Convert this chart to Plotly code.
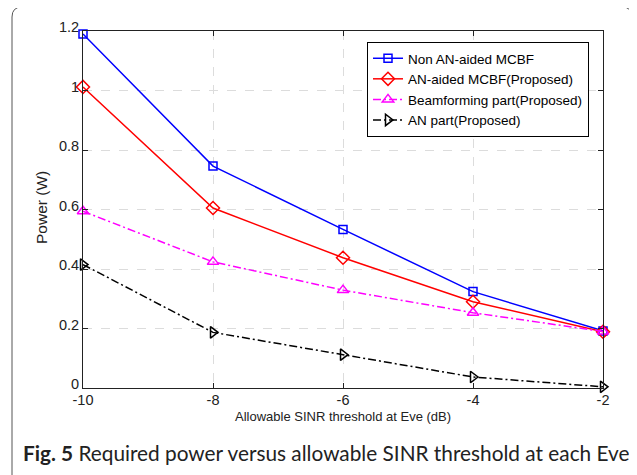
import plotly.graph_objects as go

x_vals = [-10, -8, -6, -4, -2]
non_an_mcbf = [1.19, 0.746, 0.533, 0.324, 0.192]
an_mcbf = [1.012, 0.605, 0.438, 0.29, 0.189]
beamforming_part = [0.594, 0.424, 0.329, 0.253, 0.19]
an_part = [0.415, 0.187, 0.112, 0.037, 0.004]

names = ["Non AN-aided MCBF", "AN-aided MCBF(Proposed)",
         "Beamforming part(Proposed)", "AN part(Proposed)"]
x_ticks = [-10, -8, -6, -4, -2]
x_tick_text = ["-10", "-8", "-6", "-4", "-2"]
y_ticks = [0, 0.2, 0.4, 0.6, 0.8, 1.0, 1.2]
y_tick_text = ["0", "0.2", "0.4", "0.6", "0.8", "1", "1.2"]

# page has an 8px body margin: figure coordinates = page coordinates - 8
OFF = 8
W, H = 637 - OFF, 475 - OFF
ml, mr, mt, mb = 83 - OFF, 637 - 603, 31 - OFF, 475 - 388
pw, ph = W - ml - mr, H - mt - mb

def px(xp):  # page pixel -> paper x
    return (xp - OFF - ml) / pw

def py(yp):  # page pixel -> paper y
    return (H - mb - (yp - OFF)) / ph

fig = go.Figure()
styles = [
    ("#0000ff", "solid", "square-open", 8),
    ("#ff0000", "solid", "diamond-open", 10),
    ("#ff00ff", "8px,3px,2px,3px", "triangle-up-open", 10),
    ("#000000", "8px,3px,2px,3px", "triangle-right-open", 10),
]
series = [non_an_mcbf, an_mcbf, beamforming_part, an_part]
for ys, nm, (c, d, sym, sz) in zip(series, names, styles):
    fig.add_trace(go.Scatter(
        x=x_vals, y=ys, name=nm, mode="lines+markers",
        line=dict(color=c, width=1.5, dash=d),
        marker=dict(symbol=sym, size=sz, color=c, line=dict(color=c, width=1.5)),
        cliponaxis=False,
    ))

# outer rounded frame
x0, x1, y0, y1, r = px(12), px(632), py(7), py(500), 10
rx, ry = r / pw, r / ph
path = (f"M {x0},{y1} L {x0},{y0-ry} Q {x0},{y0} {x0+rx},{y0} "
        f"L {x1-rx},{y0} Q {x1},{y0} {x1},{y0-ry} L {x1},{y1}")
fig.add_shape(type="path", xref="paper", yref="paper", path=path,
              line=dict(color="#555555", width=1))

fig.add_annotation(
    xref="paper", yref="paper", x=px(21), y=py(452), xanchor="left", yanchor="middle",
    text="<b>Fig. 5</b> Required power versus allowable SINR threshold at each Eve",
    showarrow=False, font=dict(family="Lato", size=20.8, color="#222222"))

fig.add_annotation(
    xref="paper", yref="paper", x=px(343), y=py(416), xanchor="center", yanchor="middle",
    text="Allowable SINR threshold at Eve (dB)", showarrow=False,
    font=dict(family="Liberation Sans, Arial", size=13, color="#222222"))

fig.add_annotation(
    xref="paper", yref="paper", x=px(41), y=py(208), xanchor="center", yanchor="middle",
    text="Power (W)", showarrow=False, textangle=-90,
    font=dict(family="Liberation Sans, Arial", size=15.5, color="#222222"))

axis_common = dict(showline=True, linecolor="#222222", linewidth=1, mirror="ticks",
                   ticks="inside", ticklen=5, tickcolor="#222222",
                   showgrid=True, gridcolor="#dcdcdc", griddash="dash", gridwidth=1,
                   zeroline=False,
                   tickfont=dict(family="Liberation Sans, Arial", size=14.5, color="#222222"))

fig.update_layout(
    width=W, height=H,
    margin=dict(l=ml, r=mr, t=mt, b=mb),
    paper_bgcolor="white", plot_bgcolor="white",
    xaxis=dict(range=[-10, -2], tickvals=x_ticks, ticktext=x_tick_text,
               ticklabelstandoff=-1, **axis_common),
    yaxis=dict(range=[0, 1.2], tickvals=y_ticks, ticktext=y_tick_text,
               ticklabelshift=-4, **axis_common),
    legend=dict(x=px(367), y=py(42), xanchor="left", yanchor="top",
                bgcolor="white", bordercolor="#000000", borderwidth=1,
                font=dict(family="Liberation Sans, Arial", size=13.5, color="#000000"),
                tracegroupgap=0, itemwidth=30),
    showlegend=True,
)

fig.write_html("out.html")
